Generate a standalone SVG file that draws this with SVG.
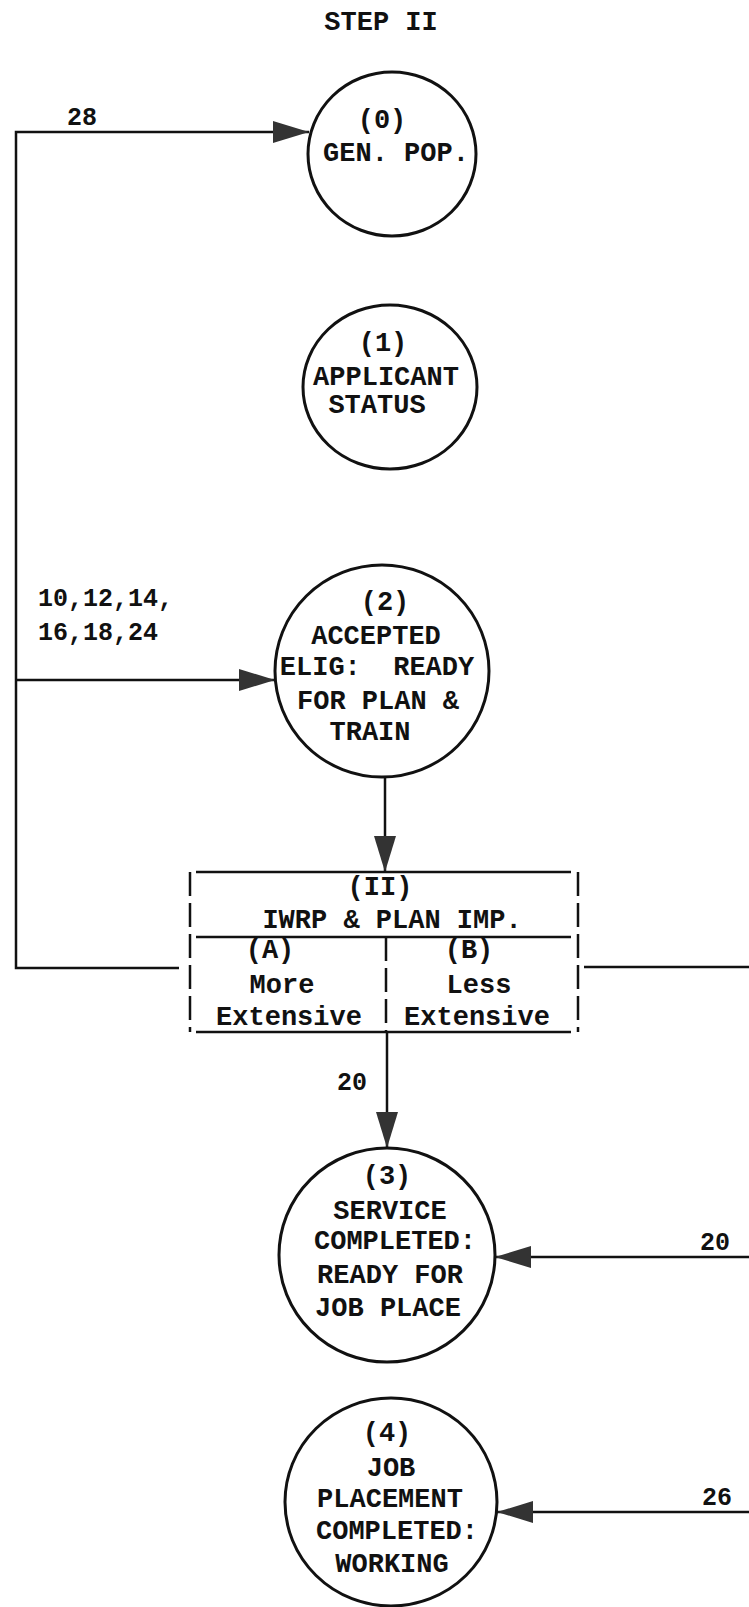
<svg xmlns="http://www.w3.org/2000/svg" width="749" height="1607" viewBox="0 0 749 1607">
<style>
.t{font-family:"Liberation Mono","DejaVu Sans Mono",monospace;font-weight:bold;font-size:27px;fill:#111;text-anchor:middle;white-space:pre}
.l{font-family:"Liberation Mono","DejaVu Sans Mono",monospace;font-weight:bold;font-size:25px;fill:#111;white-space:pre}
.n{fill:#fff;stroke:#111;stroke-width:3}
.c{fill:none;stroke:#111;stroke-width:2.5}
.d{fill:none;stroke:#111;stroke-width:2.5;stroke-dasharray:24 7}
</style>
<defs>
<marker id="ah" viewBox="0 0 36 22" refX="36" refY="11" markerUnits="userSpaceOnUse" markerWidth="36" markerHeight="22" orient="auto">
<path d="M0,0 L36,11 L0,22 z" fill="#333"/>
</marker>
</defs>
<rect width="749" height="1607" fill="#fff"/>
<text class="t" x="381" y="30">STEP II</text>
<g id="connectors">
<path class="c" d="M179,968 H16 V132 H309" marker-end="url(#ah)"/>
<path class="c" d="M16,680 H275" marker-end="url(#ah)"/>
<path class="c" d="M385,777 V872" marker-end="url(#ah)"/>
<path class="c" d="M387,1032 V1148" marker-end="url(#ah)"/>
<path class="c" d="M584,967 H749"/>
<path class="c" d="M749,1257 H495" marker-end="url(#ah)"/>
<path class="c" d="M749,1512 H497" marker-end="url(#ah)"/>
<text class="l" x="67" y="125">28</text>
<text class="l" x="38" y="606">10,12,14,</text>
<text class="l" x="38" y="640">16,18,24</text>
<text class="l" x="337" y="1090">20</text>
<text class="l" x="700" y="1250">20</text>
<text class="l" x="702" y="1505">26</text>
</g>
<g id="n0">
<ellipse class="n" cx="392" cy="154" rx="84" ry="82"/>
<text class="t" x="382" y="128">(0)</text>
<text class="t" x="396" y="161">GEN. POP.</text>
</g>
<g id="n1">
<ellipse class="n" cx="390" cy="387" rx="87" ry="82"/>
<text class="t" x="383" y="351">(1)</text>
<text class="t" x="386" y="385">APPLICANT</text>
<text class="t" x="377" y="413">STATUS</text>
</g>
<g id="n2">
<ellipse class="n" cx="382" cy="671" rx="107" ry="106"/>
<text class="t" x="385" y="610">(2)</text>
<text class="t" x="376" y="644">ACCEPTED</text>
<text class="t" x="377" y="675">ELIG:  READY</text>
<text class="t" x="378" y="709">FOR PLAN &amp;</text>
<text class="t" x="370" y="740">TRAIN</text>
</g>
<g id="box">
<path class="c" d="M196,872 H571 M196,937 H571 M196,1032 H571"/>
<path class="d" d="M190,872 V1032 M578,872 V1032 M386,937 V1032"/>
<text class="t" x="380" y="895">(II)</text>
<text class="t" x="392" y="928">IWRP &amp; PLAN IMP.</text>
<text class="t" x="270" y="958">(A)</text>
<text class="t" x="282" y="993">More</text>
<text class="t" x="289" y="1025">Extensive</text>
<text class="t" x="469" y="958">(B)</text>
<text class="t" x="479" y="993">Less</text>
<text class="t" x="477" y="1025">Extensive</text>
</g>
<g id="n3">
<ellipse class="n" cx="387" cy="1255" rx="108" ry="107"/>
<text class="t" x="387" y="1184">(3)</text>
<text class="t" x="390" y="1219">SERVICE</text>
<text class="t" x="395" y="1249">COMPLETED:</text>
<text class="t" x="390" y="1283">READY FOR</text>
<text class="t" x="388" y="1316">JOB PLACE</text>
</g>
<g id="n4">
<ellipse class="n" cx="391" cy="1502" rx="106" ry="104"/>
<text class="t" x="387" y="1441">(4)</text>
<text class="t" x="391" y="1476">JOB</text>
<text class="t" x="390" y="1507">PLACEMENT</text>
<text class="t" x="397" y="1539">COMPLETED:</text>
<text class="t" x="392" y="1572">WORKING</text>
</g>
</svg>
